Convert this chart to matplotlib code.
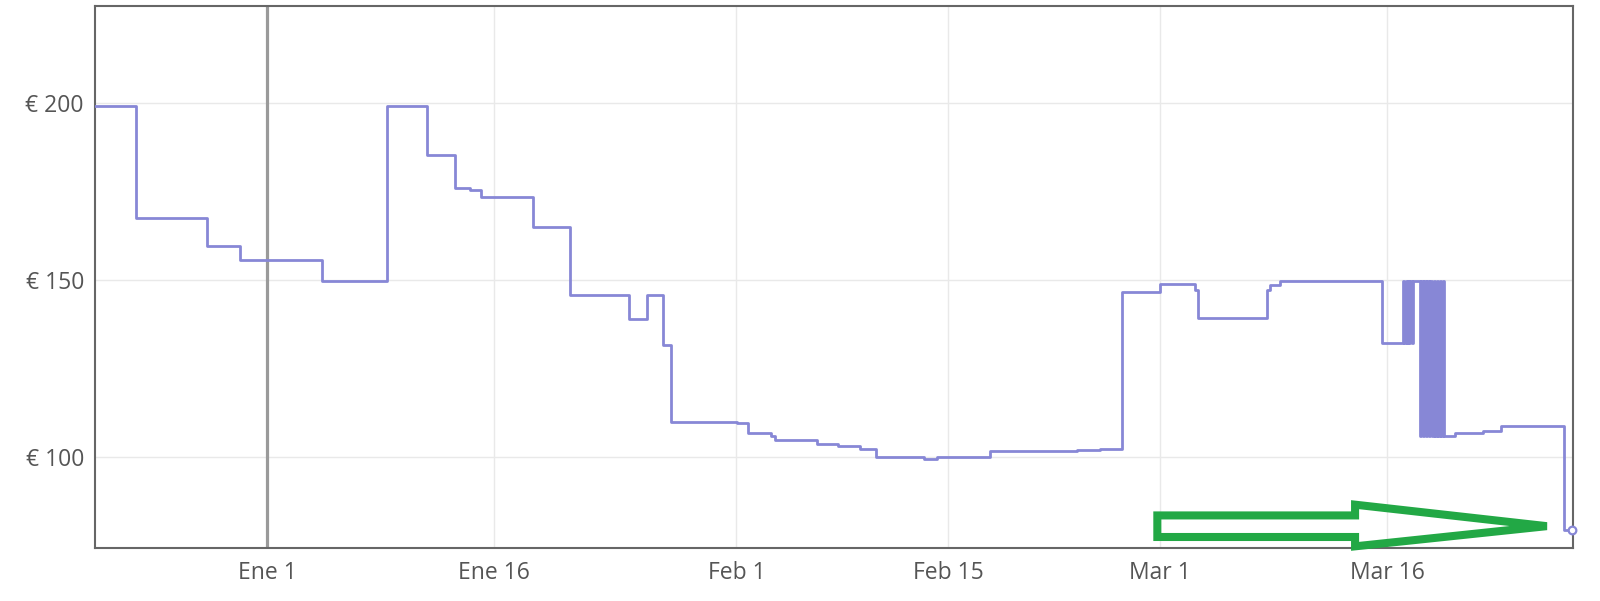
import matplotlib.pyplot as plt
from matplotlib.patches import Polygon

# x = days since Jan 1 (negative = December), price in EUR, step changes
days = [-11.36, -8.63, -3.97, -1.80, 3.66, 7.93, 10.58, 12.43, 13.40, 14.10,
        17.58, 20.00, 23.88, 25.07, 26.13, 26.18, 26.66, 31.06, 31.79, 33.27,
        33.55, 36.31, 37.74, 39.13, 40.23, 43.36, 44.24, 47.72, 53.50, 55.04,
        56.47, 58.96, 61.30, 61.47, 66.05, 66.27, 66.93, 73.65,
        75.04, 75.12, 75.20, 75.28, 75.36, 75.44, 75.52, 75.60, 75.70,
        76.14, 76.24, 76.34, 76.44, 76.54, 76.64, 76.74, 76.84, 76.94,
        77.04, 77.14, 77.24, 77.34, 77.44, 77.54, 77.64, 77.73,
        78.43, 80.33, 81.47, 85.67, 86.18]
prices = [199.2, 167.5, 159.6, 155.5, 149.5, 199.2, 185.3, 176.0, 175.4, 173.4,
          164.9, 145.8, 138.8, 145.8, 138.8, 131.6, 109.8, 109.5, 106.8, 105.8,
          104.6, 103.5, 102.9, 102.2, 100.0, 99.5, 99.8, 101.6, 101.8, 102.1,
          146.6, 148.7, 147.0, 139.1, 147.0, 148.4, 149.5, 132.1,
          149.5, 132.1, 149.5, 132.1, 149.5, 132.1, 149.5, 132.1, 149.5,
          105.9, 149.5, 105.9, 149.5, 105.9, 149.5, 105.9, 149.5, 105.9,
          149.5, 105.9, 149.5, 105.9, 149.5, 105.9, 149.5, 105.9,
          106.6, 107.2, 108.7, 79.4, 79.4]

tick_days = [0, 15, 31, 45, 59, 74]
tick_labels = ['Ene 1', 'Ene 16', 'Feb 1', 'Feb 15', 'Mar 1', 'Mar 16']
price_ticks = [100, 150, 200]

line_col = '#8787d6'
txt_col = '#555555'

fig = plt.figure(figsize=(16, 6.01), dpi=100)
ax = fig.add_axes([0.0594, 0.088, 0.9236, 0.902])

ax.step(days, prices, where='post', color=line_col, lw=2.0, zorder=3)
ax.plot(days[-1], prices[-1], 'o', ms=5.5, mfc='white', mec=line_col, mew=1.6,
        zorder=4, clip_on=False)

# dark marker line at the start of the year
ax.axvline(0, color='#9a9a9a', lw=2.3, zorder=2)

# green hollow arrow pointing at the last price
arrow_pts = [(58.80, 83.43), (71.86, 83.43), (71.86, 86.47), (84.52, 80.4),
             (71.86, 74.7), (71.86, 77.34), (58.80, 77.34)]
ax.add_patch(Polygon(arrow_pts, closed=True, fill=False, edgecolor='#22a845',
                     lw=5.8, joinstyle='miter', zorder=5, clip_on=False))

ax.set_xlim(-11.36, 86.24)
ax.set_ylim(74.2, 227.3)
ax.set_xticks(tick_days)
ax.set_xticklabels(tick_labels)
ax.set_yticks(price_ticks)
ax.set_yticklabels(['€ %d' % p for p in price_ticks])
ax.grid(True, color='#e9e9e9', lw=1.0, zorder=1)
ax.tick_params(length=0, labelsize=16.5, labelcolor=txt_col)
ax.tick_params(axis='x', pad=9)
ax.tick_params(axis='y', pad=8)
for lab in ax.get_xticklabels() + ax.get_yticklabels():
    lab.set_family('Open Sans')
for s in ax.spines.values():
    s.set_color('#666666')
    s.set_linewidth(1.5)

fig.savefig('out.png', dpi=100)
